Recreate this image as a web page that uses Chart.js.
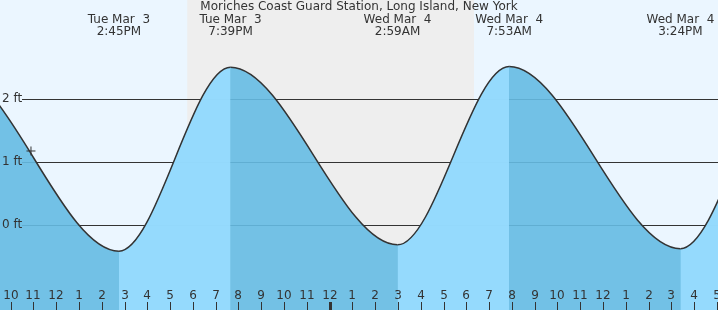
<!DOCTYPE html>
<html>
<head>
<meta charset="utf-8">
<script src="https://cdn.jsdelivr.net/npm/chart.js@4/dist/chart.umd.min.js"></script>
<style>
  body { margin: 0; background: #fff; }
  #wrap { width: 718px; height: 310px; }
</style>
</head>
<body>
<div id="wrap"><canvas id="tide" width="718" height="310"></canvas></div>
<script>
const title = 'Moriches Coast Guard Station, Long Island, New York';

// hours counted from Tue Mar 3 00:00, heights in ft
// the first two and last two extremes sit outside the visible window
const tideHours = [0.9, 7.35, 14.75, 19.65, 26.983, 31.883, 39.4, 44.3, 51.6];
const tideFeet = [-0.35, 2.50, -0.41, 2.51, -0.31, 2.52, -0.37, 2.50, -0.35];

const extremeIdx = [2, 3, 4, 5, 6];
const extremeDays = ['Tue Mar  3', 'Tue Mar  3', 'Wed Mar  4', 'Wed Mar  4', 'Wed Mar  4'];
const extremeTimes = ['2:45PM', '7:39PM', '2:59AM', '7:53AM', '3:24PM'];

const hourTicks = [10, 11, 12, 13, 14, 15, 16, 17, 18, 19, 20, 21, 22, 23, 24, 25,
  26, 27, 28, 29, 30, 31, 32, 33, 34, 35, 36, 37, 38, 39, 40, 41];
const hourLabels = ['10', '11', '12', '1', '2', '3', '4', '5', '6', '7', '8', '9', '10', '11', '12', '1',
  '2', '3', '4', '5', '6', '7', '8', '9', '10', '11', '12', '1', '2', '3', '4', '5'];
const midnightHour = 24;

const feetTicks = [2, 1, 0];
const feetLabels = ['2 ft', '1 ft', '0 ft'];

const nowHour = 10.89;
const nowFeet = 1.18;

const nightStart = 17.75;  // sunset Tue
const nightEnd = 30.34;    // sunrise Wed

const dayBg = '#ebf6ff';
const nightBg = '#eeeeee';
const fallingFill = 'rgba(101,187,227,0.9)';   // base fill under the whole curve
const risingFill = 'rgba(153,221,255,0.9)';    // laid over the base on rising tide
const ink = '#333';
const font = '12px "DejaVu Sans", sans-serif';

const tidePoints = tideHours.map((h, i) => ({ x: h, y: tideFeet[i] }));

const tidePlugin = {
  id: 'tideDecor',
  beforeDraw(chart) {
    const { ctx, width, height } = chart;
    const x = chart.scales.x;
    ctx.save();
    ctx.fillStyle = dayBg;
    ctx.fillRect(0, 0, width, height);
    const x0 = x.getPixelForValue(nightStart);
    const x1 = x.getPixelForValue(nightEnd);
    ctx.fillStyle = nightBg;
    ctx.fillRect(x0, 0, x1 - x0, height);
    ctx.restore();
  },
  beforeDatasetsDraw(chart) {
    const { ctx, width } = chart;
    const y = chart.scales.y;
    ctx.save();
    ctx.strokeStyle = ink;
    ctx.lineWidth = 1;
    feetTicks.forEach(v => {
      const py = Math.round(y.getPixelForValue(v)) + 0.5;
      ctx.beginPath();
      ctx.moveTo(22, py);
      ctx.lineTo(width, py);
      ctx.stroke();
    });
    ctx.restore();
  },
  afterDatasetsDraw(chart) {
    const { ctx, width, height } = chart;
    const x = chart.scales.x;
    const y = chart.scales.y;
    ctx.save();
    ctx.fillStyle = ink;
    ctx.font = font;

    // y labels
    ctx.textAlign = 'left';
    ctx.textBaseline = 'middle';
    feetTicks.forEach((v, i) => {
      ctx.fillText(feetLabels[i], 2, y.getPixelForValue(v));
    });

    // title
    ctx.textAlign = 'center';
    ctx.fillText(title, width / 2, 7);

    // high / low labels
    extremeIdx.forEach((k, i) => {
      const px = x.getPixelForValue(tideHours[k]);
      ctx.fillText(extremeDays[i], px, 20);
      ctx.fillText(extremeTimes[i], px, 32);
    });

    // hour labels and ticks
    ctx.strokeStyle = ink;
    hourTicks.forEach((h, i) => {
      const px = Math.round(x.getPixelForValue(h));
      ctx.fillText(hourLabels[i], px, 296);
      ctx.lineWidth = h === midnightHour ? 3 : 1;
      ctx.beginPath();
      ctx.moveTo(px + 0.5, 302);
      ctx.lineTo(px + 0.5, height);
      ctx.stroke();
    });
    ctx.restore();
  }
};

new Chart(document.getElementById('tide'), {
  type: 'line',
  data: {
    datasets: [{
      // base fill
      data: tidePoints,
      order: 2,
      borderWidth: 0,
      borderColor: 'rgba(0,0,0,0)',
      pointRadius: 0,
      fill: 'start',
      backgroundColor: fallingFill,
      cubicInterpolationMode: 'monotone'
    }, {
      // curve + rising overlay
      data: tidePoints,
      order: 1,
      borderColor: ink,
      borderWidth: 1.5,
      pointRadius: 0,
      fill: 'start',
      backgroundColor: 'rgba(0,0,0,0)',
      cubicInterpolationMode: 'monotone',
      segment: {
        backgroundColor: c => c.p1.parsed.y > c.p0.parsed.y ? risingFill : 'rgba(0,0,0,0)'
      }
    }, {
      // current time marker
      data: [{ x: nowHour, y: nowFeet }],
      order: 0,
      showLine: false,
      pointStyle: 'cross',
      pointRadius: 4.5,
      borderColor: ink,
      borderWidth: 1,
      backgroundColor: ink
    }]
  },
  options: {
    responsive: false,
    animation: false,
    events: [],
    layout: { padding: 0, autoPadding: false },
    plugins: { legend: { display: false }, tooltip: { enabled: false } },
    scales: {
      x: { type: 'linear', min: 9.53, max: 41.05, display: false },
      y: { min: -1.344, max: 3.577, display: false }
    }
  },
  plugins: [tidePlugin]
});
</script>
</body>
</html>
